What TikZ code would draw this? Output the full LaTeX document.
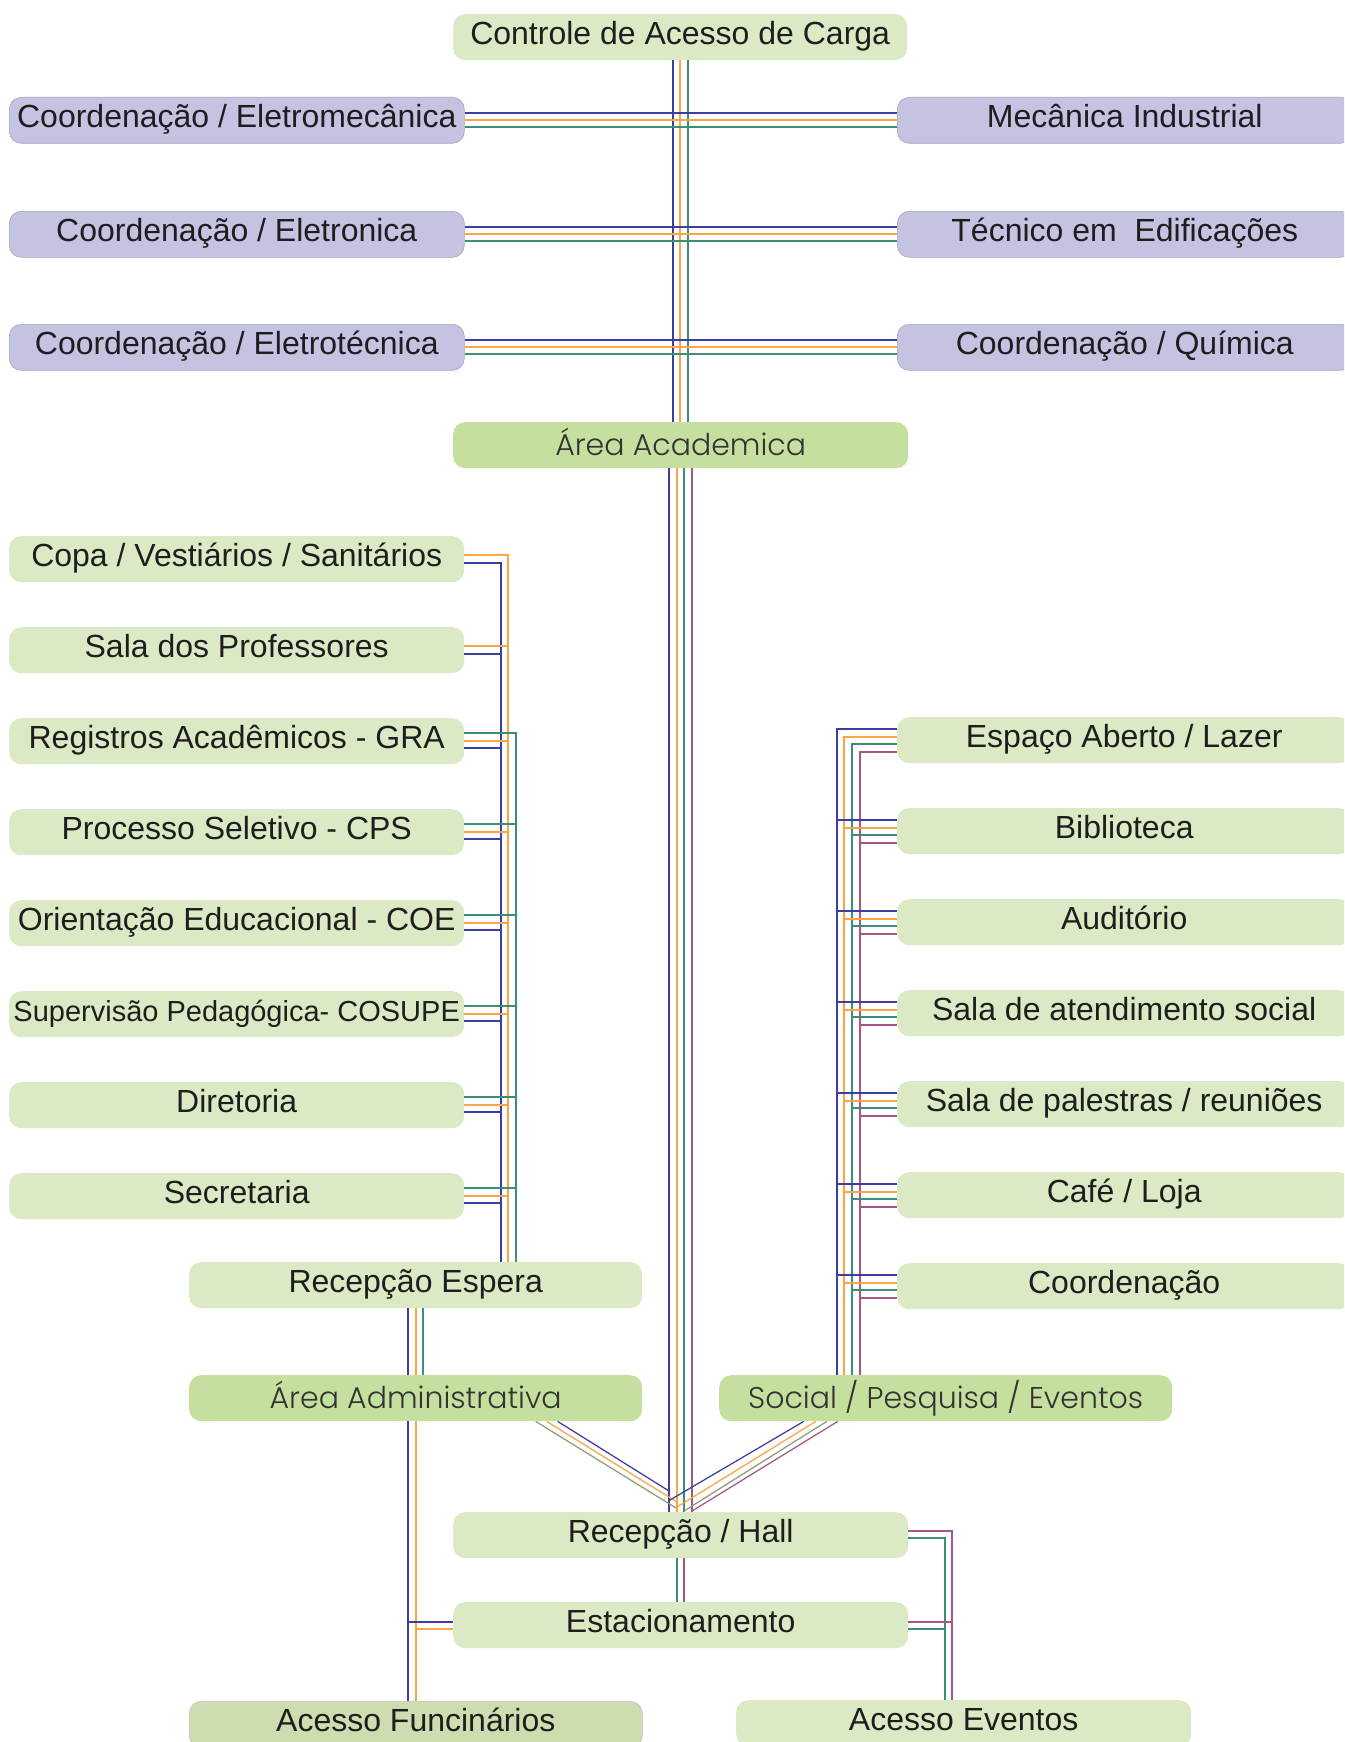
\documentclass[tikz,border=0pt]{standalone}
\usepackage{fontspec}
\setmainfont{Liberation Sans}
\newfontfamily\thinfont{Poppins Light}
\usetikzlibrary{calc}
\definecolor{blueL}{RGB}{62,62,160}
\definecolor{orangeL}{RGB}{250,165,70}
\definecolor{tealL}{RGB}{60,142,122}
\definecolor{magL}{RGB}{165,85,135}
\definecolor{oliveL}{RGB}{140,158,115}
\definecolor{purpleBox}{RGB}{197,195,226}
\definecolor{purpleEdge}{RGB}{165,163,185}
\definecolor{lightGreen}{RGB}{219,234,196}
\definecolor{midGreen}{RGB}{197,224,158}
\definecolor{grayGreen}{RGB}{206,221,176}
\definecolor{txt}{RGB}{30,30,30}
\tikzset{
  basebox/.style={anchor=north west, rounded corners=12pt, minimum height=46pt, inner sep=0pt,
    text=txt, font=\fontsize{32}{38}\selectfont, text height=23pt, text depth=8pt},
  pbox/.style={basebox, fill=purpleBox, draw=purpleEdge, line width=0.6pt, minimum width=455pt},
  gbox/.style={basebox, fill=lightGreen, minimum width=455pt},
  abox/.style={basebox, fill=midGreen, minimum width=455pt, font=\thinfont\fontsize{30}{36}\selectfont,
    text=black!80, text height=26pt, text depth=5pt},
  fbox/.style={basebox, fill=grayGreen, draw=black!25, line width=0.6pt, minimum width=453pt},
  ln/.style={line width=1.25pt},
  bl/.style={ln, draw=blueL},
  or/.style={ln, draw=orangeL},
  te/.style={ln, draw=tealL},
  ma/.style={ln, draw=magL},
  ol/.style={ln, draw=oliveL},
}
\begin{document}
\begin{tikzpicture}[x=1pt,y=-1pt]
\clip (0,0) rectangle (1344,1742);
\fill[white] (0,0) rectangle (1344,1742);

% x positions of vertical buses
\coordinate (xTb) at (673,0);
\coordinate (xTo) at (680,0);
\coordinate (xTt) at (688,0);
\coordinate (xAb) at (669,0);
\coordinate (xAo) at (677,0);
\coordinate (xAt) at (684,0);
\coordinate (xAm) at (692,0);
\coordinate (xLb) at (501,0);
\coordinate (xLo) at (508,0);
\coordinate (xLt) at (516,0);
\coordinate (xEb) at (408,0);
\coordinate (xEo) at (416,0);
\coordinate (xEt) at (423,0);
\coordinate (xRb) at (837,0);
\coordinate (xRo) at (844,0);
\coordinate (xRt) at (852,0);
\coordinate (xRm) at (860,0);
\coordinate (xVt) at (945,0);
\coordinate (xVm) at (952,0);

% ---------- nodes ----------
\node[gbox, minimum width=454pt] (ctrl) at (453,14) {Controle de Acesso de Carga};
\node[pbox] (eletromec) at (9,97) {Coordenação / Eletromecânica};
\node[pbox] (mecind) at (897,97) {Mecânica Industrial};
\node[pbox] (eletron) at (9,211) {Coordenação / Eletronica};
\node[pbox] (tecedif) at (897,211) {Técnico em~~Edificações};
\node[pbox] (eletrotec) at (9,324) {Coordenação / Eletrotécnica};
\node[pbox] (quimica) at (897,324) {Coordenação / Química};
\node[abox] (academ) at (453,422) {Área Academica};

\node[gbox] (copa) at (9,536) {Copa / Vestiários / Sanitários};
\node[gbox] (salaprof) at (9,627) {Sala dos Professores};
\node[gbox] (registros) at (9,718) {Registros Acadêmicos - GRA};
\node[gbox] (processo) at (9,809) {Processo Seletivo - CPS};
\node[gbox] (orient) at (9,900) {Orientação Educacional - COE};
\node[gbox, font=\fontsize{29}{34}\selectfont] (superv) at (9,991) {Supervisão Pedagógica- COSUPE};
\node[gbox] (diret) at (9,1082) {Diretoria};
\node[gbox] (secret) at (9,1173) {Secretaria};
\node[gbox, minimum width=453pt] (respera) at (189,1262) {Recepção Espera};
\node[abox, minimum width=453pt] (admin) at (189,1375) {Área Administrativa};

\node[gbox, minimum width=454pt] (espaco) at (897,717) {Espaço Aberto / Lazer};
\node[gbox, minimum width=454pt] (biblio) at (897,808) {Biblioteca};
\node[gbox, minimum width=454pt] (audit) at (897,899) {Auditório};
\node[gbox, minimum width=454pt] (salaatend) at (897,990) {Sala de atendimento social};
\node[gbox, minimum width=454pt] (salapal) at (897,1081) {Sala de palestras / reuniões};
\node[gbox, minimum width=454pt] (cafe) at (897,1172) {Café / Loja};
\node[gbox, minimum width=454pt] (coord) at (897,1263) {Coordenação};
\node[abox, minimum width=453pt] (social) at (719,1375) {Social / Pesquisa / Eventos};

\node[gbox] (hall) at (453,1512) {Recepção / Hall};
\node[gbox] (estac) at (453,1602) {Estacionamento};
\node[fbox] (acfunc) at (189,1701) {Acesso Funcinários};
\node[gbox] (aceven) at (736,1700) {Acesso Eventos};

% ---------- connectors ----------
% controle -> academica
\draw[bl] (ctrl.south -| xTb) -- (academ.north -| xTb);
\draw[or] (ctrl.south -| xTo) -- (academ.north -| xTo);
\draw[te] (ctrl.south -| xTt) -- (academ.north -| xTt);

% purple rows
\foreach \a/\b in {eletromec/mecind, eletron/tecedif, eletrotec/quimica}{
  \draw[bl] ([yshift=-16pt]\a.north east) -- ([yshift=-16pt]\b.north west);
  \draw[or] ([yshift=-23pt]\a.north east) -- ([yshift=-23pt]\b.north west);
  \draw[te] ([yshift=-30pt]\a.north east) -- ([yshift=-30pt]\b.north west);
}

% academica to hall
\draw[bl] (academ.south -| xAb) -- (hall.north -| xAb);
\draw[or] (academ.south -| xAo) -- (hall.north -| xAo);
\draw[te] (academ.south -| xAt) -- (hall.north -| xAt);
\draw[ma] (academ.south -| xAm) -- (hall.north -| xAm);

% left bus
\draw[or] ([yshift=-19pt]copa.north east) -| (respera.north -| xLo);
\draw[bl] ([yshift=-27pt]copa.north east) -| (respera.north -| xLb);
\draw[or] ([yshift=-19pt]salaprof.north east) -- ([yshift=-19pt]salaprof.north east -| xLo);
\draw[bl] ([yshift=-27pt]salaprof.north east) -- ([yshift=-27pt]salaprof.north east -| xLb);
\draw[te] ([yshift=-15pt]registros.north east) -| (respera.north -| xLt);
\foreach \n in {registros, processo, orient, superv, diret, secret}{
  \draw[te] ([yshift=-15pt]\n.north east) -- ([yshift=-15pt]\n.north east -| xLt);
  \draw[or] ([yshift=-23pt]\n.north east) -- ([yshift=-23pt]\n.north east -| xLo);
  \draw[bl] ([yshift=-30pt]\n.north east) -- ([yshift=-30pt]\n.north east -| xLb);
}

% recepcao espera -> admin -> acesso funcionarios
\draw[bl] (respera.south -| xEb) -- (admin.north -| xEb);
\draw[or] (respera.south -| xEo) -- (admin.north -| xEo);
\draw[te] (respera.south -| xEt) -- (admin.north -| xEt);
\draw[bl] (admin.south -| xEb) -- (acfunc.north -| xEb);
\draw[or] (admin.south -| xEo) -- (acfunc.north -| xEo);
\draw[bl] ([yshift=-20pt]estac.north west) -- ([yshift=-20pt]estac.north west -| xEb);
\draw[or] ([yshift=-27pt]estac.north west) -- ([yshift=-27pt]estac.north west -| xEo);

% right bus
\draw[bl] ([yshift=-12pt]espaco.north west) -| (social.north -| xRb);
\draw[or] ([yshift=-20pt]espaco.north west) -| (social.north -| xRo);
\draw[te] ([yshift=-27pt]espaco.north west) -| (social.north -| xRt);
\draw[ma] ([yshift=-35pt]espaco.north west) -| (social.north -| xRm);
\foreach \n in {biblio, audit, salaatend, salapal, cafe, coord}{
  \draw[bl] ([yshift=-12pt]\n.north west) -- ([yshift=-12pt]\n.north west -| xRb);
  \draw[or] ([yshift=-20pt]\n.north west) -- ([yshift=-20pt]\n.north west -| xRo);
  \draw[te] ([yshift=-27pt]\n.north west) -- ([yshift=-27pt]\n.north west -| xRt);
  \draw[ma] ([yshift=-35pt]\n.north west) -- ([yshift=-35pt]\n.north west -| xRm);
}

% diagonals into hall
\coordinate (dLb) at (669,1491);
\coordinate (dLo) at (677,1502);
\coordinate (dLl) at (676,1508);
\coordinate (dRb) at (670,1500);
\coordinate (dRo) at (677,1507);
\coordinate (dRl) at (684,1511);
\coordinate (dRm) at (692,1511);
\draw[ol] ([xshift=120pt]admin.south) -- (dLl);
\draw[or] ([xshift=131pt]admin.south) -- (dLo);
\draw[bl] ([xshift=142pt]admin.south) -- (dLb);
\draw[bl] ([xshift=-142pt]social.south) -- (dRb);
\draw[or] ([xshift=-130pt]social.south) -- (dRo);
\draw[ol] ([xshift=-119pt]social.south) -- (dRl);
\draw[ma] ([xshift=-108pt]social.south) -- (dRm);

% hall -> estacionamento, acesso eventos
\draw[te] (hall.south -| xAo) -- (estac.north -| xAo);
\draw[ma] (hall.south -| xAt) -- (estac.north -| xAt);
\draw[ma] ([yshift=-19pt]hall.north east) -| (aceven.north -| xVm);
\draw[te] ([yshift=-26pt]hall.north east) -| (aceven.north -| xVt);
\draw[ma] ([yshift=-20pt]estac.north east) -- ([yshift=-20pt]estac.north east -| xVm);
\draw[te] ([yshift=-27pt]estac.north east) -- ([yshift=-27pt]estac.north east -| xVt);
\end{tikzpicture}
\end{document}
